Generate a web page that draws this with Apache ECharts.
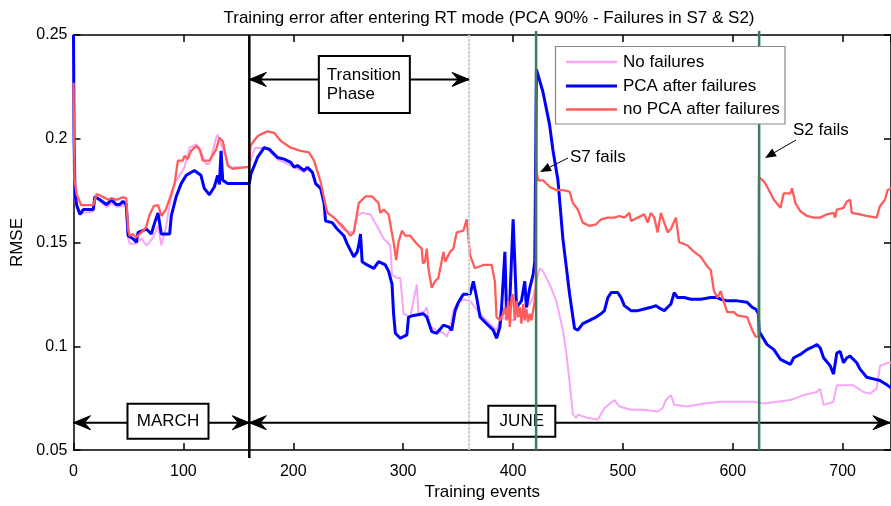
<!DOCTYPE html>
<html>
<head>
<meta charset="utf-8">
<script src="https://cdn.jsdelivr.net/npm/echarts@6/dist/echarts.min.js"></script>
<style>
html,body{margin:0;padding:0;background:#fff;}
#chart{width:891px;height:506px;}
</style>
</head>
<body>
<div id="chart"></div>
<script>
// ---------------- data ----------------
const titleText = 'Training error after entering RT mode (PCA 90% - Failures in S7 & S2)';
const xTicks = [0, 100, 200, 300, 400, 500, 600, 700];
const yTicks = [0.05, 0.1, 0.15, 0.2, 0.25];
const seriesNames = ['No failures', 'PCA after failures', 'no PCA after failures'];

const noFailures = [
[0,0.19],[1,0.172],[3,0.166],[6,0.164],[18,0.165],[20,0.172],[24,0.17],[30,0.167],[35,0.169],[40,0.167],[45,0.168],[48,0.167],
[49.7,0.152],[51.2,0.1494],[57,0.1494],[62,0.152],[66.3,0.1486],[69.3,0.1502],[73,0.153],[77,0.158],[79.9,0.1486],[84.4,0.158],
[87.5,0.1683],[92,0.1784],[101,0.1863],[105.6,0.1957],[111.6,0.1973],[114.7,0.1957],[120.7,0.1878],[123.7,0.1878],[129.8,0.2004],
[131.2,0.202],[134.3,0.1973],[138.8,0.191],[141.8,0.1863],[157,0.1863],[160,0.1863],
[161.5,0.19],[165,0.1955],[173.5,0.1957],[178,0.1942],[185.7,0.19],[191.7,0.1886],[197.7,0.1871],[203.8,0.1855],[209.8,0.1839],
[212.9,0.1855],[217.4,0.1831],[220.4,0.178],[225,0.1761],[228,0.17],[231,0.165],[237,0.162],[246,0.156],[252,0.155],[255.1,0.1555],
[258.2,0.1628],[262.7,0.1643],[270.2,0.1635],[276.2,0.158],[282.3,0.1518],[288.3,0.1486],[289.9,0.1345],[294.4,0.1329],[297.4,0.1329],
[300.4,0.1157],[306.4,0.1141],[312.4,0.1298],[314,0.1157],[320,0.1172],[321.5,0.1188],[324.5,0.1094],[330.6,0.1078],[336.7,0.1063],
[339.7,0.1047],[342.7,0.1086],[345.7,0.1172],[348.8,0.1204],[354.8,0.1225],[360.9,0.1219],[370,0.1157],[379,0.1109],[385,0.1078],
[388.1,0.1125],[394.1,0.1141],[400.1,0.1125],[406.2,0.1157],[412.2,0.1188],[415.3,0.1204],[418.3,0.1235],[421.3,0.1313],[424.3,0.1376],
[427.3,0.1361],[433.3,0.1298],[439.4,0.1219],[445.4,0.1078],[448.5,0.0968],[451.5,0.0827],[454.5,0.0671],[457.5,0.0655],
[459,0.0671],[468.1,0.0655],[477.2,0.0647],[483.2,0.0702],[492.2,0.0741],[496.8,0.071],[507.4,0.0694],[519.5,0.0694],[531.6,0.0686],
[536.1,0.0702],[539.1,0.0741],[543.7,0.0765],[546.7,0.0718],[558.7,0.071],[573.8,0.0725],[588.9,0.0733],[604,0.0733],[619.1,0.0733],
[628.2,0.0725],[640.3,0.0733],[652.4,0.0741],[664.5,0.0765],[676.5,0.078],[679.6,0.0796],[682.6,0.0718],[691.6,0.0733],[694.7,0.0812],
[709.8,0.0812],[718.9,0.078],[724.9,0.0772],[731,0.0796],[734,0.0906],[740.9,0.0921],[744,0.0921]
];

const pcaAfterFailures = [
[0,0.25],[0.5,0.2],[1.4,0.173],[3,0.168],[5.9,0.1635],[8.9,0.1659],[18,0.1659],[19.5,0.1722],[24,0.1706],[30,0.1683],[34.6,0.1706],
[39,0.1683],[42,0.1683],[45,0.1698],[48,0.1683],[49.7,0.1533],[54.2,0.1518],[57.2,0.1502],[58.8,0.1549],[66.3,0.1565],[70.8,0.1541],
[73.9,0.1596],[76.9,0.1643],[79.9,0.1541],[87.5,0.1541],[89,0.1628],[93.5,0.1722],[98,0.1784],[102.6,0.1824],[110,0.1847],[116,0.1824],
[119,0.1761],[123.7,0.173],[128.2,0.1769],[131.2,0.1824],[132.8,0.178],[134.3,0.1942],[135.8,0.18],[140.3,0.1784],[157,0.1784],[160,0.1784],
[161.5,0.1831],[167.5,0.191],[173.5,0.1957],[178.1,0.195],[185.7,0.191],[191.7,0.1902],[197.7,0.1886],[200.8,0.1863],[203.8,0.1871],
[209.8,0.1847],[212.9,0.1863],[217.4,0.1839],[220.4,0.1784],[224.9,0.1761],[228,0.169],[229.4,0.1604],[235.5,0.1596],[240,0.1565],
[246,0.1533],[249.1,0.1494],[252.1,0.1462],[255.1,0.1431],[258.2,0.1455],[259.6,0.1486],[261.2,0.1541],[262.7,0.1408],[267.2,0.1392],
[273.3,0.1376],[277.7,0.1408],[283.8,0.1392],[286.8,0.1361],[289.9,0.1298],[291.3,0.1157],[292.9,0.1063],[297.4,0.1039],[303.4,0.1055],
[304.9,0.1141],[309.5,0.1149],[318.5,0.1157],[321.5,0.1141],[326,0.1071],[330.6,0.1063],[336.7,0.1102],[341.2,0.1094],[344.2,0.1078],
[347.3,0.1172],[350.3,0.1212],[354.8,0.1251],[357.9,0.1251],[360.9,0.1251],[363.9,0.1313],[366.9,0.1235],[370,0.1141],[376,0.1109],
[382,0.1078],[385,0.1039],[388.1,0.1094],[389.6,0.1188],[392.6,0.1455],[394.1,0.1157],[397.1,0.1219],[400.1,0.1612],[403.2,0.1188],
[407.7,0.1219],[410.7,0.1313],[412.2,0.1188],[415.3,0.1282],[418.3,0.1345],[419.8,0.1408],[421.3,0.2334],[427.3,0.2224],[433.3,0.2067],
[436.4,0.1942],[440.9,0.18],[445.4,0.1518],[451.5,0.1251],[456,0.1086],[459,0.1078],[463.5,0.1109],[469.6,0.1125],[475.6,0.1141],
[480.1,0.1157],[483.2,0.1172],[486.3,0.1235],[489.3,0.1259],[495.3,0.1259],[498.3,0.1235],[501.3,0.1196],[507.4,0.1172],[513.5,0.1172],
[519.5,0.118],[525.5,0.1188],[530.1,0.1196],[534.6,0.118],[537.7,0.1172],[540.7,0.1188],[543.7,0.1204],[546.7,0.1259],[549.7,0.1235],
[555.8,0.1235],[561.8,0.1227],[570.9,0.1227],[579.9,0.1235],[586,0.1235],[589,0.1227],[595,0.1219],[604.1,0.1219],[613.1,0.1212],
[617.7,0.1188],[620.7,0.118],[623.2,0.116],[624,0.1071],[628.6,0.1031],[631.3,0.1008],[637.4,0.0984],[643.4,0.0937],[652.4,0.0913],
[655.5,0.0945],[661.5,0.0961],[667.5,0.0984],[673.6,0.1],[676.6,0.1008],[679.6,0.0992],[682.6,0.0945],[688.7,0.0906],[691.7,0.0866],
[694.7,0.0968],[697.7,0.0976],[700.8,0.0921],[703.8,0.0945],[706.8,0.0953],[712.8,0.0921],[715.8,0.089],[721.9,0.0851],[727.9,0.0843],
[733.9,0.0835],[740.9,0.0812],[744,0.08]
];

const noPcaAfterFailures = [
[0,0.227],[1,0.18],[3,0.173],[7,0.168],[18,0.168],[21,0.1734],[27,0.172],[31.6,0.1706],[34.6,0.1714],[39,0.1706],[45,0.1718],[48,0.1714],
[49.7,0.1565],[51,0.1533],[54,0.1541],[57,0.1525],[62,0.155],[66,0.1573],[69,0.163],[73,0.1675],[77,0.168],[80,0.1628],[84,0.1659],
[87.5,0.171],[92,0.1784],[95,0.1895],[99.5,0.1895],[101,0.1918],[104,0.1902],[107,0.1942],[111.6,0.1965],[114.7,0.1949],[117.7,0.1895],
[123.7,0.1895],[129.8,0.1949],[132.8,0.2004],[135.8,0.1989],[140.3,0.1871],[144.9,0.1855],[157,0.1863],[160,0.1863],
[161,0.1965],[163,0.1981],[167.5,0.2012],[172,0.2025],[176.6,0.2036],[182.6,0.2029],[188.7,0.1989],[197.7,0.1957],[206.8,0.1942],
[214.3,0.1934],[218.9,0.1895],[224.9,0.1792],[230.9,0.1643],[237,0.162],[246,0.1573],[252.1,0.1533],[255.1,0.1549],[259.6,0.169],
[265.7,0.1722],[271.7,0.1722],[277.7,0.169],[279.2,0.1643],[282.3,0.1659],[286.8,0.1635],[291.3,0.1502],[293.7,0.1416],[295.8,0.1502],
[298.9,0.1557],[301.9,0.1533],[306.4,0.1533],[312.4,0.1494],[316.9,0.1471],[318,0.14],[319.9,0.1408],[321.5,0.1471],[323,0.1376],
[326,0.1282],[329,0.1313],[332,0.1329],[335,0.1408],[336.7,0.1455],[338.2,0.1408],[342.7,0.1455],[345.7,0.1471],[348.8,0.1549],
[354.8,0.1557],[357.9,0.1612],[360.9,0.1439],[365.4,0.1376],[373,0.1392],[380.5,0.1392],[383.5,0.1313],[385,0.1141],[388.1,0.1125],
[391.1,0.1157],[392.6,0.1188],[394.1,0.1125],[395.6,0.1219],[397.1,0.1094],[398.6,0.1235],[400.1,0.1251],[401.6,0.1125],[403.2,0.1219],
[404.7,0.1141],[406.2,0.1188],[407.7,0.1109],[409.2,0.1204],[410.7,0.1125],[412.2,0.118],[413.7,0.1117],[415.3,0.1157],[416.8,0.1125],
[418.3,0.1172],[419.8,0.1219],[420.8,0.1282],[421,0.2224],[421.5,0.185],[422.8,0.18],[427.3,0.18],[433.3,0.1769],[439.4,0.1753],
[445.4,0.1753],[451.5,0.1745],[454.5,0.169],[459,0.1659],[463.5,0.1596],[469.6,0.158],[475.6,0.1588],[480.2,0.1612],[486.3,0.162],
[492.3,0.162],[496.8,0.1628],[501.3,0.162],[505.9,0.1643],[507.4,0.1604],[513.5,0.162],[519.5,0.1636],[522.5,0.1596],[525.5,0.1643],
[528.6,0.162],[531.6,0.1549],[534.6,0.1643],[537.7,0.1596],[540.7,0.1549],[543.7,0.1565],[548.2,0.162],[551.2,0.1502],[558.8,0.1486],
[564.8,0.1455],[570.9,0.1431],[576.9,0.1384],[579.9,0.1368],[582.9,0.1266],[586,0.1235],[589,0.1266],[592,0.1212],[595,0.1165],
[598,0.1165],[601.1,0.1165],[604.1,0.1149],[613.1,0.1141],[617.7,0.1078],[620.7,0.1047],[623.5,0.1047],[623.8,0.1816],[625.2,0.1808],
[628.6,0.1792],[631.3,0.1769],[637.4,0.1706],[643.4,0.1667],[646.4,0.1737],[652.4,0.1737],[653.9,0.1761],[657,0.169],[661.5,0.1651],
[667.5,0.1628],[673.6,0.162],[679.6,0.162],[685.7,0.1636],[691.7,0.1643],[693.2,0.162],[694.7,0.1659],[700.8,0.1667],[703.8,0.1698],
[706.8,0.1706],[708.3,0.1643],[715.8,0.1636],[721.9,0.1628],[730.9,0.162],[733.9,0.1675],[738.5,0.1706],[740.9,0.1753],[744,0.176]
];

// event markers (x positions, in training events)
const phaseBoundary = 160;
const transitionEnd = 360;
const failureS7 = 421;
const failureS2 = 624;

// ---------------- chart ----------------
const FONT = 'Liberation Sans, Arial, sans-serif';
const TXT = 17;
const colors = ['#f7a6f7', '#0000ff', '#ff5c5c'];
const chart = echarts.init(document.getElementById('chart'), null, {renderer: 'canvas'});

const axisCommon = {
  axisLine: {show: true, onZero: false, lineStyle: {color: '#000', width: 1.5}},
  axisTick: {show: true, inside: true, length: 7, lineStyle: {color: '#000', width: 1.5}},
  splitLine: {show: false}
};

chart.setOption({
  animation: false,
  backgroundColor: '#fff',
  title: {
    text: titleText, left: 484, top: 5, textAlign: 'center',
    textStyle: {fontFamily: FONT, fontSize: TXT, fontWeight: 'normal', color: '#000'}
  },
  grid: {left: 73.5, right: -3, top: 35, bottom: 46.5, containLabel: false},
  xAxis: [
    Object.assign({}, axisCommon, {
      type: 'value', min: xTicks[0], max: 744, interval: 100, position: 'bottom',
      name: 'Training events', nameLocation: 'middle', nameGap: 32,
      nameTextStyle: {fontFamily: FONT, fontSize: TXT, color: '#000'},
      axisLabel: {fontFamily: FONT, fontSize: 16, color: '#000', margin: 13, showMaxLabel: false,
        formatter: v => xTicks.indexOf(v) >= 0 ? String(v) : ''}
    }),
    Object.assign({}, axisCommon, {
      type: 'value', min: xTicks[0], max: 744, interval: 100, position: 'top',
      axisLabel: {show: false}
    })
  ],
  yAxis: [
    Object.assign({}, axisCommon, {
      type: 'value', min: yTicks[0], max: yTicks[yTicks.length - 1], interval: 0.05, position: 'left',
      name: 'RMSE', nameLocation: 'middle', nameGap: 47, nameRotate: 90,
      nameTextStyle: {fontFamily: FONT, fontSize: TXT, color: '#000'},
      axisLabel: {fontFamily: FONT, fontSize: 16, color: '#000', margin: 6,
        formatter: v => String(Math.round(v * 100) / 100)}
    }),
    Object.assign({}, axisCommon, {
      type: 'value', min: yTicks[0], max: yTicks[yTicks.length - 1], interval: 0.05, position: 'right',
      axisLabel: {show: false}
    })
  ],
  series: [
    {name: seriesNames[0], type: 'line', data: noFailures, showSymbol: false, symbol: 'none',
      lineStyle: {color: colors[0], width: 2}, z: 2},
    {name: seriesNames[1], type: 'line', data: pcaAfterFailures, showSymbol: false, symbol: 'none',
      lineStyle: {color: colors[1], width: 3}, z: 3},
    {name: seriesNames[2], type: 'line', data: noPcaAfterFailures, showSymbol: false, symbol: 'none',
      lineStyle: {color: colors[2], width: 2.3}, z: 4}
  ]
});

// ------------- annotations, positioned through the axes -------------
function px(x, y) { return chart.convertToPixel({gridIndex: 0}, [x, y]); }
const yTop = px(0, 0.25)[1];
const yBot = px(0, 0.05)[1];

function vline(xv, y1, y2, color, width, dash, z) {
  const X = px(xv, 0.1)[0];
  return {type: 'line', shape: {x1: X, y1: y1, x2: X, y2: y2},
    style: {stroke: color, lineWidth: width, lineDash: dash || null}, z: z || 10};
}
function head(xTip, y, dir) { // dir -1 points left, +1 points right
  const L = 17, H = 7, N = 11;
  return {type: 'polygon', shape: {points: [[xTip, y], [xTip - dir * L, y - H], [xTip - dir * N, y], [xTip - dir * L, y + H]]},
    style: {fill: '#000', stroke: '#000', lineWidth: 1}, z: 20};
}
function hArrow(xa, xb, y, leftHead, rightHead) {
  const out = [{type: 'line', shape: {x1: xa, y1: y, x2: xb, y2: y}, style: {stroke: '#000', lineWidth: 2}, z: 19}];
  if (leftHead) out.push(head(xa, y, -1));
  if (rightHead) out.push(head(xb, y, 1));
  return out;
}
function box(cx, cy, w, h, lines, align) {
  const items = [{type: 'rect', shape: {x: cx - w / 2, y: cy - h / 2, width: w, height: h},
    style: {fill: '#fff', stroke: '#000', lineWidth: 2}, z: 21}];
  items.push({type: 'text', x: align === 'left' ? cx - w / 2 + 8 : cx, y: cy,
    style: {text: lines.join('\n'), font: TXT + 'px ' + FONT, fill: '#000',
      textAlign: align === 'left' ? 'left' : 'center', textVerticalAlign: 'middle', lineHeight: 19}, z: 22});
  return items;
}
function pointer(xFrom, yFrom, xTo, yTo) {
  const ang = Math.atan2(yTo - yFrom, xTo - xFrom);
  const L = 11, H = 4.5;
  const bx = xTo - L * Math.cos(ang), by = yTo - L * Math.sin(ang);
  const nx = -Math.sin(ang) * H, ny = Math.cos(ang) * H;
  return [
    {type: 'line', shape: {x1: xFrom, y1: yFrom, x2: bx, y2: by}, style: {stroke: '#000', lineWidth: 1}, z: 20},
    {type: 'polygon', shape: {points: [[xTo, yTo], [bx + nx, by + ny], [bx - nx, by - ny]]}, style: {fill: '#000'}, z: 20}
  ];
}
function label(x, y, txt) {
  return {type: 'text', x: x, y: y, style: {text: txt, font: TXT + 'px ' + FONT, fill: '#000', textVerticalAlign: 'middle'}, z: 22};
}

const g = [];
// vertical markers
g.push(vline(transitionEnd, yTop, yBot, '#cfcfcf', 2, [3, 1], 5));
g.push(vline(phaseBoundary, yTop, yBot + 8, '#000', 2.5, null, 18));

// month arrows
const xB = px(phaseBoundary, 0.1)[0];
const x0 = px(0, 0.1)[0];
const yMonth = px(0, 0.0632)[1];
g.push(...hArrow(x0, xB, yMonth, true, true));
g.push(...hArrow(xB, 890, yMonth, true, true));
g.push(...box(px(86, 0.1)[0], px(0, 0.0639)[1], 81, 35, ['MARCH']));
g.push(...box(px(408, 0.1)[0], px(0, 0.0639)[1], 67, 31, ['JUNE']));

// transition phase arrow
const yTr = px(0, 0.2286)[1];
g.push(...hArrow(xB, px(transitionEnd, 0.1)[0], yTr, true, true));
g.push(...box(px(264.7, 0.1)[0], px(0, 0.2262)[1], 91, 57, ['Transition', 'Phase'], 'left'));

// failure lines (on top of boxes)
g.push(vline(failureS7, yTop - 4, yBot, '#3d7d5b', 2.5, null, 30));
g.push(vline(failureS2, yTop - 4, yBot, '#3d7d5b', 2.5, null, 30));

// failure labels
g.push(...pointer(568, 158, 540, 172));
g.push(label(570, 157, 'S7 fails'));
g.push(...pointer(796, 140, 765, 158));
g.push(label(793, 130, 'S2 fails'));

// legend box
const lgX = 555.5, lgY = 46.5;
g.push({type: 'rect', shape: {x: lgX, y: lgY, width: 229.5, height: 77.5},
  style: {fill: '#fff', stroke: '#888', lineWidth: 1.2}, z: 40});
const rowY = [62, 86, 109.5];
seriesNames.forEach((n, i) => {
  g.push({type: 'line', shape: {x1: 566, y1: rowY[i], x2: 617, y2: rowY[i]},
    style: {stroke: colors[i], lineWidth: i === 1 ? 3 : 2.3}, z: 41});
  g.push({type: 'text', x: 623, y: rowY[i],
    style: {text: n, font: TXT + 'px ' + FONT, fill: '#000', textVerticalAlign: 'middle'}, z: 41});
});

chart.setOption({graphic: {elements: g}});
</script>
</body>
</html>
